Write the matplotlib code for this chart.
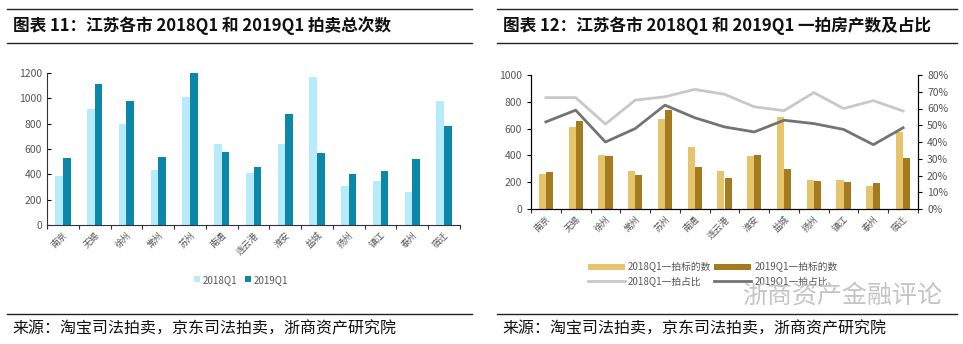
import numpy as np
import matplotlib.pyplot as plt
from matplotlib.lines import Line2D
from matplotlib.ticker import FuncFormatter

plt.rcParams['font.family'] = ['Noto Sans CJK SC', 'DejaVu Sans']

# 数据
cities = ['南京', '无锡', '徐州', '常州', '苏州', '南通', '连云港', '淮安', '盐城', '扬州', '镇江', '泰州', '宿迁']
total_2018 = [390, 913, 800, 433, 1010, 638, 412, 643, 1168, 310, 349, 262, 979]
total_2019 = [530, 1113, 979, 538, 1200, 575, 459, 874, 570, 404, 428, 520, 780]
first_2018 = [259, 609, 403, 286, 674, 460, 284, 393, 684, 216, 214, 174, 577]
first_2019 = [277, 659, 396, 256, 739, 316, 229, 403, 299, 206, 204, 197, 378]
ratio_2018 = [66.5, 66.5, 50.7, 65.0, 67.0, 71.4, 68.5, 61.0, 58.7, 69.5, 60.0, 64.7, 58.5]
ratio_2019 = [52.0, 59.0, 40.0, 48.0, 62.0, 54.5, 49.0, 46.0, 53.0, 51.0, 47.5, 38.4, 48.5]

x = np.arange(len(cities))
w = 0.24
tick_color = '#555555'

fig = plt.figure(figsize=(9.63, 3.44), dpi=100)

# 标题和分隔线
for x0, x1, title in [(7, 472, '图表 11：江苏各市 2018Q1 和 2019Q1 拍卖总次数'),
                      (497, 957, '图表 12：江苏各市 2018Q1 和 2019Q1 一拍房产数及占比')]:
    for yy in [9, 43, 314]:
        fig.add_artist(Line2D([x0 / 963, x1 / 963], [1 - yy / 344] * 2, color='#222222', lw=1.0))
    fig.text((x0 + 6) / 963, 1 - 26 / 344, title, fontsize=12, fontweight='bold',
             va='center', ha='left', color='#111111')
    fig.text((x0 + 5) / 963, 1 - 329 / 344, '来源：淘宝司法拍卖，京东司法拍卖，浙商资产研究院',
             fontsize=11.5, va='center', ha='left', color='#111111')

# 图表 11
ax1 = fig.add_axes([47 / 963, 1 - 225 / 344, 413 / 963, 152 / 344])
ax1.bar(x - w / 2, total_2018, w, color='#b5ebfb', label='2018Q1')
ax1.bar(x + w / 2, total_2019, w, color='#0b87a9', label='2019Q1')
ax1.set_ylim(0, 1200)
ax1.set_xlim(-0.5, len(cities) - 0.5)
ax1.set_yticks(range(0, 1201, 200))
ax1.set_xticks(np.arange(len(cities) + 1) - 0.5, minor=False)
ax1.set_xticklabels([])
ax1.set_xticks(x, minor=True)
ax1.set_xticklabels(cities, minor=True, rotation=45, ha='right', rotation_mode='anchor',
                    fontsize=6.5, color=tick_color)
ax1.tick_params(axis='x', which='minor', length=0, pad=4)
ax1.tick_params(axis='x', which='major', length=3, direction='out', color='#333333')
ax1.tick_params(axis='y', labelsize=7.5, labelcolor=tick_color, length=3, direction='in')
for s in ['top', 'right']:
    ax1.spines[s].set_visible(False)
for s in ['left', 'bottom']:
    ax1.spines[s].set_color('#333333')
ax1.legend(loc='upper center', bbox_to_anchor=(0.47, -0.27), ncol=2, frameon=False,
           fontsize=7, handlelength=0.6, handleheight=0.6, handletextpad=0.3,
           columnspacing=0.8, labelcolor=tick_color)

# 图表 12
ax2 = fig.add_axes([531 / 963, 1 - 209 / 344, 387 / 963, 134 / 344])
b18 = ax2.bar(x - w / 2, first_2018, w, color='#e6c46c', label='2018Q1一拍标的数')
b19 = ax2.bar(x + w / 2, first_2019, w, color='#a47b1f', label='2019Q1一拍标的数')
ax2.set_ylim(0, 1000)
ax2.set_xlim(-0.5, len(cities) - 0.5)
ax2.set_yticks(range(0, 1001, 200))
ax2.set_xticks(np.arange(len(cities) + 1) - 0.5, minor=False)
ax2.set_xticklabels([])
ax2.set_xticks(x, minor=True)
ax2.set_xticklabels(cities, minor=True, rotation=45, ha='right', rotation_mode='anchor',
                    fontsize=6.5, color=tick_color)
ax2.tick_params(axis='x', which='minor', length=0, pad=4)
ax2.tick_params(axis='x', which='major', length=3, direction='out', color='#333333')
ax2.tick_params(axis='y', labelsize=7.5, labelcolor=tick_color, length=3, direction='out')
ax2.spines['top'].set_visible(False)

ax3 = ax2.twinx()
l18, = ax3.plot(x, ratio_2018, color='#c8c8c8', lw=2, label='2018Q1一拍占比')
l19, = ax3.plot(x, ratio_2019, color='#737373', lw=2, label='2019Q1一拍占比')
ax3.set_ylim(0, 80)
ax3.set_yticks(range(0, 81, 10))
ax3.yaxis.set_major_formatter(FuncFormatter(lambda v, p: f'{v:.0f}%'))
ax3.tick_params(axis='y', labelsize=7.5, labelcolor=tick_color, length=3)
ax3.spines['top'].set_visible(False)

handles = [b18, l18, b19, l19]
ax2.legend(handles, [h.get_label() for h in handles], loc='upper center',
           bbox_to_anchor=(0.47, -0.33), ncol=2, frameon=False, fontsize=7,
           handlelength=3.8, handleheight=0.5, handletextpad=0.3,
           columnspacing=0.3, labelspacing=0.35, labelcolor=tick_color)

# 水印
fig.text(742 / 963, 1 - 297 / 344, '浙商资产金融评论', fontsize=18, color='#c4c4c4',
         va='center', ha='left')

fig.savefig('out.png', dpi=100, facecolor='white')
